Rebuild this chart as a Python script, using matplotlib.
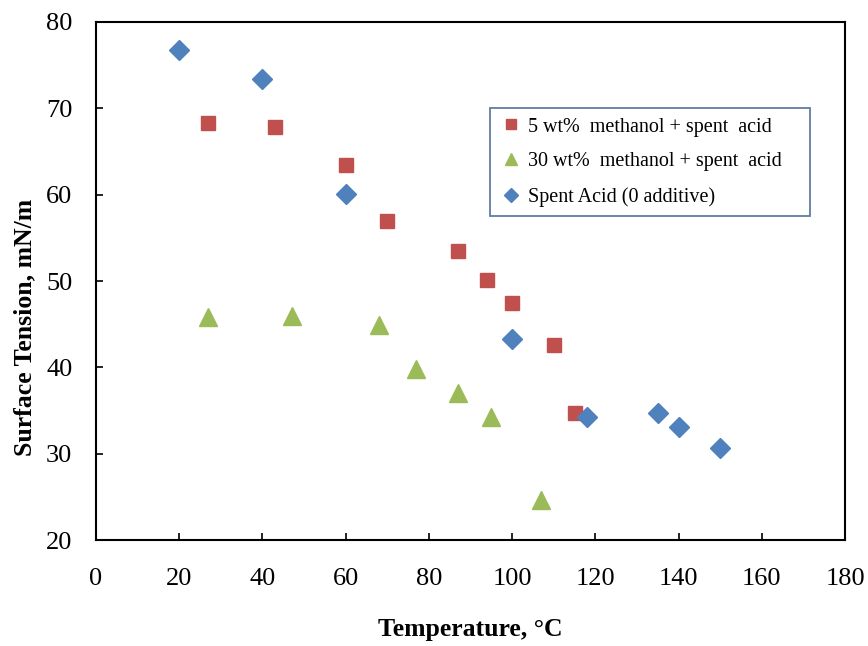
import matplotlib

matplotlib.use("Agg")
import matplotlib.pyplot as plt

# temperature (deg C) and surface tension (mN/m)
T_METHANOL_5 = [27, 43, 60, 70, 87, 94, 100, 110, 115]
ST_METHANOL_5 = [68.3, 67.8, 63.4, 57.0, 53.5, 50.1, 47.5, 42.6, 34.7]

T_METHANOL_30 = [27, 47, 68, 77, 87, 95, 107]
ST_METHANOL_30 = [45.8, 45.9, 44.9, 39.8, 37.0, 34.3, 24.6]

T_SPENT = [20, 40, 60, 100, 118, 135, 140, 150]
ST_SPENT = [76.7, 73.4, 60.1, 43.3, 34.2, 34.7, 33.1, 30.7]

LABELS = [
    "5 wt%  methanol + spent  acid",
    "30 wt%  methanol + spent  acid",
    "Spent Acid (0 additive)",
]

plt.rcParams.update({
    "font.family": ["Liberation Serif", "DejaVu Serif"],
    "axes.linewidth": 1.5,
})

fig = plt.figure(figsize=(8.68, 6.46), dpi=100)
ax = fig.add_axes([0.1106, 0.164, 0.8629, 0.802])

ax.plot(T_METHANOL_5, ST_METHANOL_5, "s", color="#C0504D", ms=10.5,
        mec="#C0504D", label=LABELS[0], zorder=3)
ax.plot(T_METHANOL_30, ST_METHANOL_30, "^", color="#9BBB59", ms=13,
        mec="#9BBB59", label=LABELS[1], zorder=3)
ax.plot(T_SPENT, ST_SPENT, "D", color="#4F81BD", ms=10.5,
        mec="#4F81BD", label=LABELS[2], zorder=3)

ax.set_xlim(0, 180)
ax.set_ylim(20, 80)
ax.set_xticks(range(0, 181, 20))
ax.set_yticks(range(20, 81, 10))
ax.tick_params(direction="in", length=5, width=1.2, labelsize=19)
ax.tick_params(axis="x", pad=20)
ax.tick_params(axis="y", pad=17)

ax.set_xlabel("Temperature, °C", fontsize=18.5, fontweight="bold")
ax.set_ylabel("Surface Tension, mN/m", fontsize=18.5, fontweight="bold")
ax.xaxis.set_label_coords(0.5, -0.151)
ax.yaxis.set_label_coords(-0.080, 0.411)

leg = ax.legend(loc="center", bbox_to_anchor=(0.526, 0.625, 0.427, 0.209),
                mode="expand", fontsize=14.5, frameon=True, fancybox=False,
                handlelength=1.2, handletextpad=0.25, labelspacing=0.78,
                borderpad=0.45, markerscale=0.65, borderaxespad=0)
leg.get_frame().set_edgecolor("#385D8A")
leg.get_frame().set_linewidth(1.3)

fig.savefig("out.png", dpi=100, facecolor="white")
